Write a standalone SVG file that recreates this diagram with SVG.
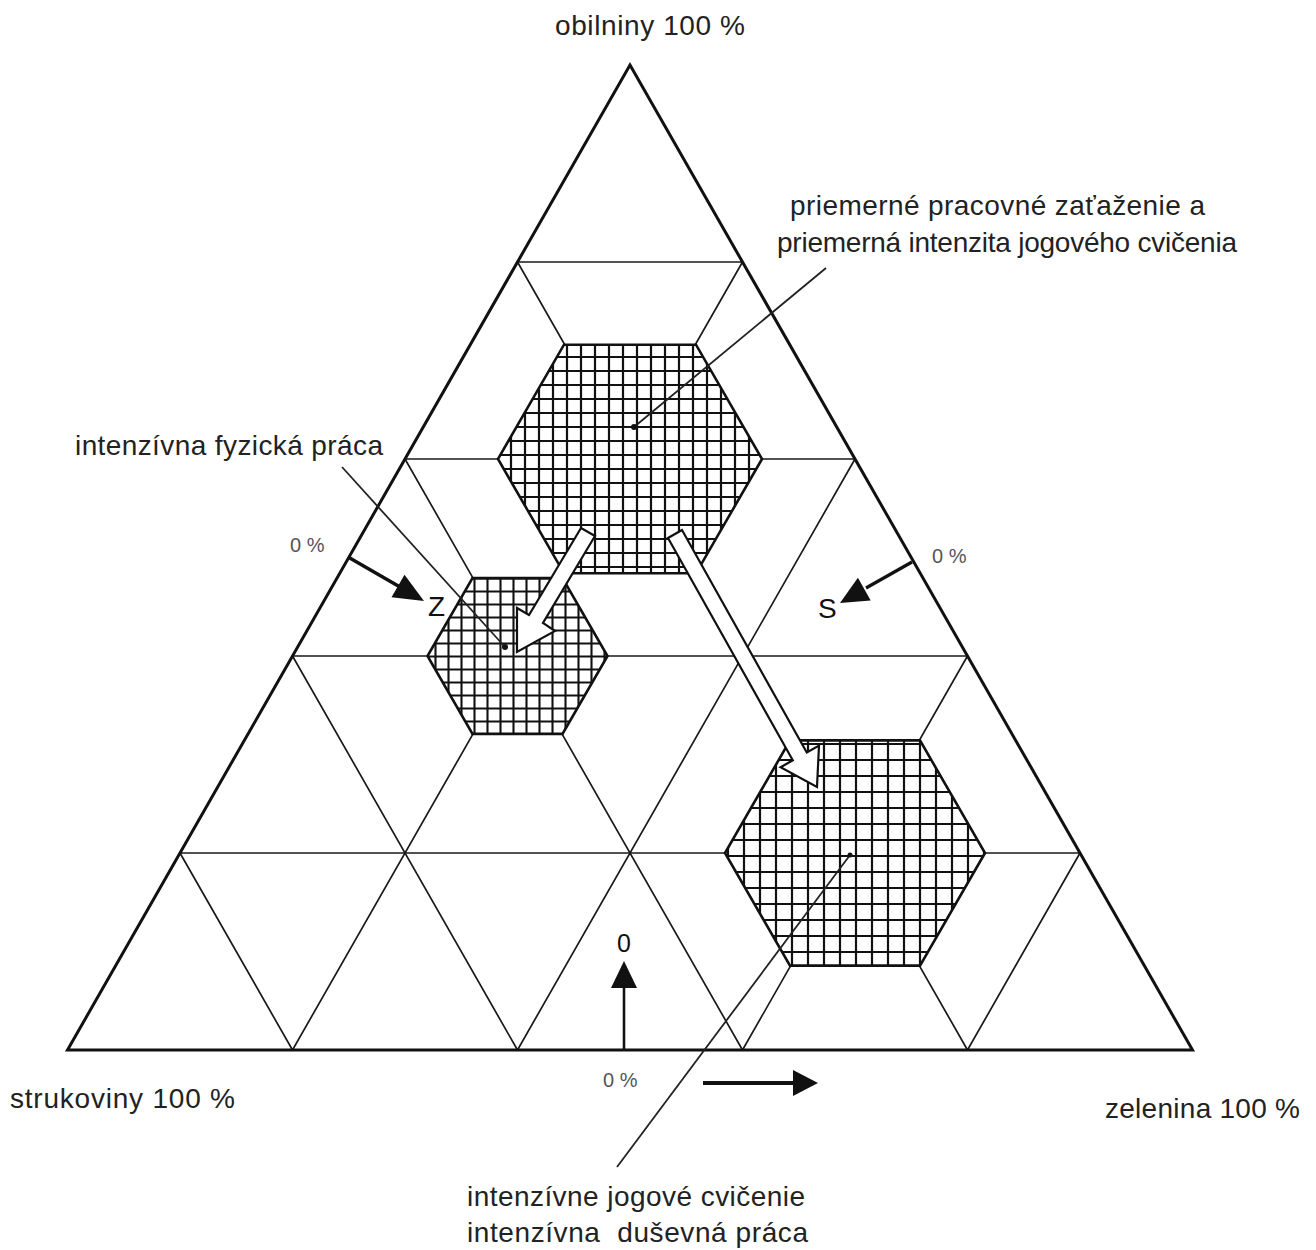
<svg xmlns="http://www.w3.org/2000/svg" width="1316" height="1250" viewBox="0 0 1316 1250">
<defs>
<style>
.grid{stroke:#1a1a1a;stroke-width:1.7;fill:none}
.frame{stroke:#111;stroke-width:3;fill:none;stroke-linejoin:miter}
.hex{stroke:#111;stroke-width:2.6}
.hollow{fill:#fff;stroke:#111;stroke-width:2.2;stroke-linejoin:miter}
.lead{stroke:#222;stroke-width:1.8;fill:none}
.blk{stroke:#111;fill:none}
.head{fill:#111}
.dot{fill:#111}
text{font-family:"Liberation Sans",Arial,sans-serif;fill:#222}
.lbl{font-size:28px}
.big{font-size:28px;fill:#111}
.pct{font-size:20px;fill:#555}
</style>
<pattern id="hatch1" x="0" y="0" width="14" height="14" patternUnits="userSpaceOnUse"><rect width="14" height="14" fill="#fff"/><path d="M0 7H14M7 0V14" stroke="#111" stroke-width="2.2"/></pattern>
<pattern id="hatch2" x="0" y="0" width="13" height="13" patternUnits="userSpaceOnUse"><rect width="13" height="13" fill="#fff"/><path d="M0 6.5H13M6.5 0V13" stroke="#111" stroke-width="2.1"/></pattern>
<pattern id="hatch3" x="0" y="0" width="16" height="16" patternUnits="userSpaceOnUse"><rect width="16" height="16" fill="#fff"/><path d="M0 8H16M8 0V16" stroke="#111" stroke-width="2.2"/></pattern>
</defs>
<rect width="1316" height="1250" fill="#fff"/>

<g id="grid">
<path class="grid" d="M517.5 262H742.5M405 459H855M292.5 656H967.5M180 853H1080"/>
<path class="grid" d="M292.5 1050L742.5 262M517.5 1050L855 459M742.5 1050L967.5 656M967.5 1050L1080 853"/>
<path class="grid" d="M967.5 1050L517.5 262M742.5 1050L405 459M517.5 1050L292.5 656M292.5 1050L180 853"/>
<path class="frame" d="M630 65L1192.5 1050H67.5Z"/>
</g>

<g id="hex-average">
<polygon class="hex" fill="url(#hatch1)" points="762,459 696,573.3 564,573.3 498,459 564,344.7 696,344.7"/>
</g>
<g id="hex-physical">
<polygon class="hex" fill="url(#hatch2)" points="607.5,656 562.5,733.9 472.5,733.9 427.5,656 472.5,578.1 562.5,578.1"/>
</g>
<g id="hex-yoga">
<polygon class="hex" fill="url(#hatch3)" points="985,853 920,965.6 790,965.6 725,853 790,740.4 920,740.4"/>
</g>

<g id="connectors">
<polygon class="hollow" points="581,528 529,615 517,608 517,652 555,631 543,623 595,536"/>
<polygon class="hollow" points="682,530 806.8,752.5 819,745.6 817,787 780.6,767.2 792.8,760.3 668,538"/>

<line class="lead" x1="826" y1="268" x2="634" y2="427"/>
<circle class="dot" cx="634" cy="427" r="3"/>
<line class="lead" x1="342" y1="467" x2="505" y2="647"/>
<circle class="dot" cx="505" cy="647" r="3"/>
<line class="lead" x1="617" y1="1167" x2="850" y2="855"/>
<circle class="dot" cx="850" cy="855" r="2.5"/>

<line class="blk" stroke-width="3.5" x1="348" y1="557" x2="400" y2="587"/>
<polygon class="head" points="424,601 391.5,597.3 404.5,574.7"/>
<line class="blk" stroke-width="3.2" x1="912" y1="562" x2="866" y2="588"/>
<polygon class="head" points="840,603 870.7,600.4 857.9,577.8"/>
<line class="blk" stroke-width="2.6" x1="624" y1="1050" x2="624" y2="986"/>
<polygon class="head" points="624,961 611,988 637,988"/>
<line class="blk" stroke-width="4" x1="703" y1="1083" x2="796" y2="1083"/>
<polygon class="head" points="818,1083 793,1070 793,1096"/>
</g>

<g id="labels">
<text class="lbl" x="555" y="35" textLength="190">obilniny 100 %</text>
<text class="lbl" x="790" y="215" textLength="415">priemerné pracovné zaťaženie a</text>
<text class="lbl" x="777" y="252" textLength="460">priemerná intenzita jogového cvičenia</text>
<text class="lbl" x="75" y="455" textLength="308">intenzívna fyzická práca</text>
<text class="lbl" x="10" y="1108" textLength="225">strukoviny 100 %</text>
<text class="lbl" x="1105" y="1118" textLength="195">zelenina 100 %</text>
<text class="lbl" x="467" y="1206" textLength="338">intenzívne jogové cvičenie</text>
<text class="lbl" x="467" y="1242" textLength="341" style="white-space:pre">intenzívna  duševná práca</text>
<text class="pct" x="290" y="552">0 %</text>
<text class="pct" x="932" y="563">0 %</text>
<text class="pct" x="603" y="1087">0 %</text>
<text class="big" x="428" y="616">Z</text>
<text class="big" x="818" y="618">S</text>
<text class="big" x="617" y="952" style="font-size:25px">0</text>
</g>
</svg>
